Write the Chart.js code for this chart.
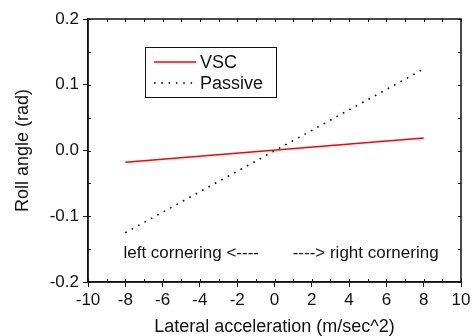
<!DOCTYPE html>
<html>
<head>
<meta charset="utf-8">
<title>Roll angle vs lateral acceleration</title>
<script src="https://cdn.jsdelivr.net/npm/chart.js@4.4.1/dist/chart.umd.min.js"></script>
<style>
  html, body { margin: 0; padding: 0; background: #fff; }
  canvas { display: block; }
</style>
</head>
<body>
<canvas id="rollChart" width="474" height="336"></canvas>
<script>
// lateral acceleration (m/s^2) at the ends of each run
const accel = [-8, 8];
// roll angle (rad)
const vscRoll = [-0.018, 0.019];
const passiveRoll = [-0.125, 0.124];

const seriesNames = ['VSC', 'Passive'];
const xTicks = [-10, -8, -6, -4, -2, 0, 2, 4, 6, 8, 10];
const yTicks = [-0.2, -0.1, 0.0, 0.1, 0.2];
const cornerNotes = ['left cornering <----', '----> right cornering'];

const FONT = 'Liberation Sans, Arial, sans-serif';
const INK = '#111';

// minor ticks sit halfway between the labelled ones
function halfSteps(arr) {
    const out = [];
    for (let i = 0; i < arr.length - 1; i++) out.push((arr[i] + arr[i + 1]) / 2);
    return out;
}

// box round the plot, inner/minor ticks, legend and the cornering notes
const framePlugin = {
    id: 'frame',
    afterDraw(chart) {
        const ctx = chart.ctx;
        const area = chart.chartArea;
        const xs = chart.scales.x;
        const ys = chart.scales.y;
        ctx.save();
        ctx.strokeStyle = INK;
        ctx.lineWidth = 1.5;
        ctx.strokeRect(area.left, area.top, area.right - area.left, area.bottom - area.top);

        ctx.lineWidth = 1;
        ctx.beginPath();
        // bottom and top: every unit gets an inward tick
        const allX = xTicks.concat(halfSteps(xTicks));
        allX.forEach(v => {
            const px = Math.round(xs.getPixelForValue(v)) + 0.5;
            ctx.moveTo(px, area.bottom);
            ctx.lineTo(px, area.bottom - 3);
            ctx.moveTo(px, area.top);
            ctx.lineTo(px, area.top + 3);
        });
        const allY = yTicks.concat(halfSteps(yTicks));
        allY.forEach(v => {
            const py = Math.round(ys.getPixelForValue(v)) + 0.5;
            ctx.moveTo(area.left, py);
            ctx.lineTo(area.left + 3, py);
            ctx.moveTo(area.right, py);
            ctx.lineTo(area.right - 3, py);
        });
        ctx.stroke();

        // legend
        const lx = 145, ly = 47, lw = 131, lh = 50;
        ctx.lineWidth = 1;
        ctx.strokeStyle = INK;
        ctx.strokeRect(lx + 0.5, ly + 0.5, lw, lh);
        ctx.font = '18px ' + FONT;
        ctx.fillStyle = INK;
        ctx.textBaseline = 'middle';
        chart.data.datasets.forEach((ds, i) => {
            const y = ly + 15 + i * 21;
            ctx.beginPath();
            ctx.strokeStyle = ds.borderColor;
            ctx.lineWidth = ds.borderWidth;
            ctx.setLineDash(ds.borderDash || []);
            ctx.moveTo(lx + 9, y);
            ctx.lineTo(lx + 51, y);
            ctx.stroke();
            ctx.setLineDash([]);
            ctx.fillText(ds.label, lx + 55, y + 1);
        });

        // cornering direction notes
        ctx.font = '17px ' + FONT;
        const ny = ys.getPixelForValue(-0.157);
        ctx.textAlign = 'left';
        ctx.fillText(cornerNotes[0], xs.getPixelForValue(-8.1), ny);
        ctx.textAlign = 'right';
        ctx.fillText(cornerNotes[1], xs.getPixelForValue(8.8), ny);
        ctx.restore();
    }
};

new Chart(document.getElementById('rollChart'), {
    type: 'line',
    data: {
        datasets: [
            {
                label: seriesNames[0],
                data: accel.map((x, i) => ({ x: x, y: vscRoll[i] })),
                borderColor: '#ff0000',
                borderWidth: 1.5,
                pointRadius: 0,
                fill: false
            },
            {
                label: seriesNames[1],
                data: accel.map((x, i) => ({ x: x, y: passiveRoll[i] })),
                borderColor: '#000',
                borderWidth: 1.6,
                borderDash: [1.6, 5.7],
                pointRadius: 0,
                fill: false
            }
        ]
    },
    options: {
        responsive: false,
        animation: false,
        layout: { padding: { top: 19, right: 13, left: 0, bottom: 0 } },
        plugins: {
            legend: { display: false },
            tooltip: { enabled: false }
        },
        scales: {
            x: {
                type: 'linear',
                min: -10,
                max: 10,
                afterBuildTicks: s => { s.ticks = xTicks.map(v => ({ value: v })); },
                afterFit: s => { s.height = 54; },
                grid: { drawOnChartArea: false, drawTicks: true, tickLength: 5, color: INK, lineWidth: 1 },
                border: { display: true, color: INK, width: 1.5 },
                ticks: { color: INK, font: { family: FONT, size: 17 }, padding: 3, maxRotation: 0 },
                title: {
                    display: true,
                    text: 'Lateral acceleration (m/sec^2)',
                    color: INK,
                    font: { family: FONT, size: 18, lineHeight: 1.0 },
                    padding: { top: 0, bottom: 0 }
                }
            },
            y: {
                type: 'linear',
                min: -0.2,
                max: 0.2,
                afterBuildTicks: s => { s.ticks = yTicks.map(v => ({ value: v })); },
                afterFit: s => { s.width = 88; },
                grid: { drawOnChartArea: false, drawTicks: true, tickLength: 5, color: INK, lineWidth: 1 },
                border: { display: true, color: INK, width: 1.5 },
                ticks: {
                    color: INK,
                    font: { family: FONT, size: 17 },
                    padding: 4,
                    callback: v => v.toFixed(1)
                },
                title: {
                    display: true,
                    text: 'Roll angle (rad)',
                    color: INK,
                    font: { family: FONT, size: 18 },
                    padding: { top: 12, bottom: 0 }
                }
            }
        }
    },
    plugins: [framePlugin]
});
</script>
</body>
</html>
